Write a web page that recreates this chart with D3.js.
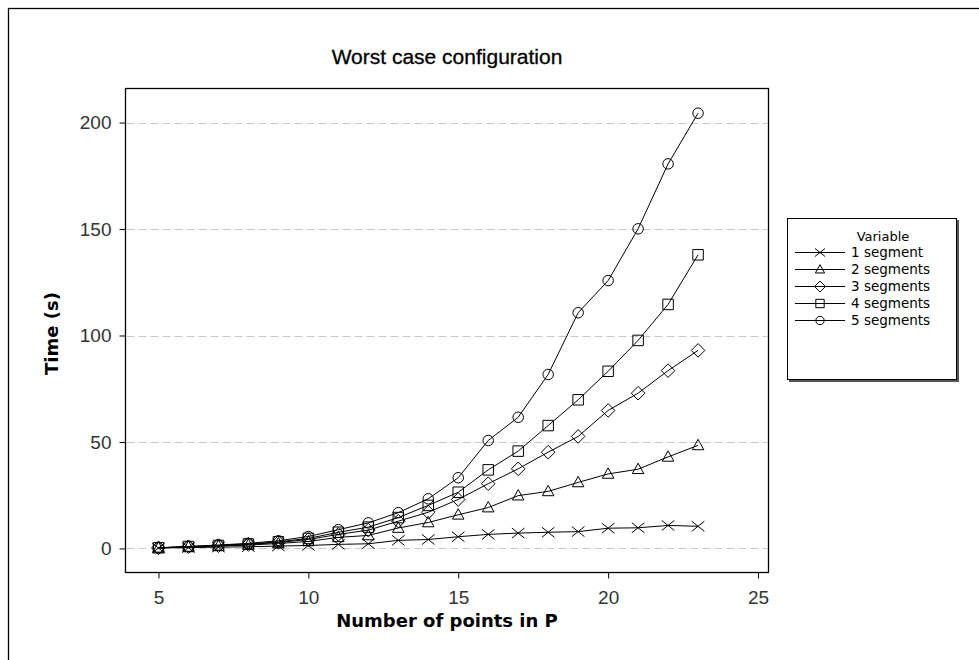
<!DOCTYPE html>
<html>
<head>
<meta charset="utf-8">
<script src="https://cdn.jsdelivr.net/npm/d3@7"></script>
<style>
  body { margin: 0; background: #fff; }
  svg { display: block; }
</style>
</head>
<body>
<svg width="979" height="660"></svg>
<script>
(function (d3) {
  "use strict";

  // data
  var points = [5, 6, 7, 8, 9, 10, 11, 12, 13, 14, 15, 16, 17, 18, 19, 20, 21, 22, 23];
  var seriesNames = ["1 segment", "2 segments", "3 segments", "4 segments", "5 segments"];
  var seg1 = [0.2, 0.4, 0.6, 0.8, 1.1, 1.4, 1.9, 2.2, 3.8, 4.2, 5.5, 6.6, 7.2, 7.6, 7.9, 9.5, 9.7, 10.8, 10.4];
  var seg2 = [0.3, 0.7, 1.1, 1.6, 2.3, 3.3, 5.2, 6.1, 9.6, 12.2, 15.8, 19.2, 24.8, 26.8, 31, 35, 37.2, 43, 48.4];
  var seg3 = [0.3, 0.8, 1.3, 1.9, 2.8, 4.2, 6.6, 8.6, 12.8, 17, 23, 30.4, 37.4, 45.2, 52.6, 64.8, 72.9, 83.5, 93];
  var seg4 = [0.3, 0.9, 1.4, 2.1, 3.1, 4.7, 7.6, 10, 14.5, 20.2, 26.4, 36.9, 45.7, 57.7, 69.8, 83.2, 97.7, 114.6, 137.9];
  var seg5 = [0.3, 0.9, 1.6, 2.4, 3.6, 5.6, 8.8, 12, 16.8, 23.3, 33.2, 50.7, 61.6, 81.7, 110.7, 125.8, 150.1, 180.6, 204.4];
  var xTicks = [5, 10, 15, 20, 25];
  var yTicks = [0, 50, 100, 150, 200];

  var allSeries = [seg1, seg2, seg3, seg4, seg5];

  var svg = d3.select("svg");

  var left = 125.5, right = 768.5, top = 88.5, bottom = 572.5;

  var x = d3.scaleLinear().domain([3.9, 25.35]).range([left, right]);
  var y = d3.scaleLinear().domain([-11.3, 216]).range([bottom, top]);

  // marker shapes, drawn hollow
  var cross = { draw: function (c, s) { var w = Math.sqrt(s) * 0.6, h = w * 0.8;
    c.moveTo(-w, -h); c.lineTo(w, h); c.moveTo(-w, h); c.lineTo(w, -h); } };
  var triangle = { draw: function (c, s) { var w = Math.sqrt(s) * 0.55;
    c.moveTo(0, -w * 1.05); c.lineTo(w, w * 0.75); c.lineTo(-w, w * 0.75); c.closePath(); } };
  var diamond = { draw: function (c, s) { var w = Math.sqrt(s) * 0.65;
    c.moveTo(0, -w); c.lineTo(w, 0); c.lineTo(0, w); c.lineTo(-w, 0); c.closePath(); } };
  var square = { draw: function (c, s) { var w = Math.sqrt(s) * 0.5;
    c.rect(-w, -w, 2 * w, 2 * w); } };
  var circle = { draw: function (c, s) { var r = Math.sqrt(s) * 0.5;
    c.moveTo(r, 0); c.arc(0, 0, r, 0, 2 * Math.PI); } };
  var shapes = [cross, triangle, diamond, square, circle];

  // outer frame
  svg.append("rect")
    .attr("x", 8.5).attr("y", 8.5)
    .attr("width", 1100).attr("height", 800)
    .attr("fill", "none").attr("stroke", "#000").attr("stroke-width", 1.3);

  // title
  svg.append("text")
    .attr("x", (left + right) / 2).attr("y", 64)
    .attr("text-anchor", "middle")
    .style("font-family", "Liberation Sans, Arial, sans-serif")
    .style("font-size", "21px")
    .style("stroke", "#000").style("stroke-width", 0.3)
    .text("Worst case configuration");

  // grid
  svg.append("g")
    .selectAll("line")
    .data(yTicks)
    .join("line")
    .attr("x1", left + 1).attr("x2", right - 1)
    .attr("y1", function (d) { return Math.round(y(d)) + 0.5; })
    .attr("y2", function (d) { return Math.round(y(d)) + 0.5; })
    .attr("stroke", "#c8c8c8")
    .attr("stroke-dasharray", "8,4");

  // axes
  var xAxis = svg.append("g")
    .attr("transform", "translate(0," + bottom + ")")
    .call(d3.axisBottom(x).tickValues(xTicks).tickSize(6).tickPadding(8));
  var yAxis = svg.append("g")
    .attr("transform", "translate(" + left + ",0)")
    .call(d3.axisLeft(y).tickValues(yTicks).tickSize(6).tickPadding(8));

  [xAxis, yAxis].forEach(function (a) {
    a.select(".domain").remove();
    a.selectAll("line").attr("stroke", "#000");
    a.selectAll("text")
      .attr("fill", "#333")
      .style("font-family", "Liberation Sans, Arial, sans-serif")
      .style("font-size", "19px");
  });
  xAxis.selectAll("text").attr("dy", "0.9em");

  // plot frame
  svg.append("rect")
    .attr("x", left).attr("y", top)
    .attr("width", right - left).attr("height", bottom - top)
    .attr("fill", "none").attr("stroke", "#000").attr("stroke-width", 1.3);

  // axis labels
  svg.append("text")
    .attr("x", (left + right) / 2).attr("y", 627)
    .attr("text-anchor", "middle")
    .style("font-family", "DejaVu Sans, sans-serif")
    .style("font-weight", "bold")
    .style("font-size", "18px")
    .text("Number of points in P");

  svg.append("text")
    .attr("transform", "translate(58," + ((top + bottom) / 2 + 3) + ") rotate(-90)")
    .attr("text-anchor", "middle")
    .style("font-family", "DejaVu Sans, sans-serif")
    .style("font-weight", "bold")
    .style("font-size", "18px")
    .text("Time (s)");

  // lines and markers
  var line = d3.line()
    .x(function (d, i) { return x(points[i]); })
    .y(function (d) { return y(d); });

  var plot = svg.append("g");

  plot.selectAll(".series")
    .data(allSeries)
    .join("path")
    .attr("class", "series")
    .attr("d", line)
    .attr("fill", "none")
    .attr("stroke", "#000")
    .attr("stroke-width", 1);

  allSeries.forEach(function (vals, k) {
    plot.append("g")
      .selectAll("path")
      .data(vals)
      .join("path")
      .attr("transform", function (d, i) { return "translate(" + x(points[i]) + "," + y(d) + ")"; })
      .attr("d", d3.symbol().type(shapes[k]).size(110))
      .attr("fill", "none")
      .attr("stroke", "#000")
      .attr("stroke-width", 1);
  });

  // legend
  var lg = svg.append("g");
  lg.append("rect")
    .attr("x", 789).attr("y", 220)
    .attr("width", 170).attr("height", 162)
    .attr("fill", "#555");
  lg.append("rect")
    .attr("x", 787.5).attr("y", 218.5)
    .attr("width", 169).attr("height", 161)
    .attr("fill", "#fff").attr("stroke", "#000");

  lg.append("text")
    .attr("x", 883).attr("y", 241)
    .attr("text-anchor", "middle")
    .style("font-family", "DejaVu Sans, sans-serif")
    .style("font-size", "13px")
    .text("Variable");

  var items = lg.selectAll(".item")
    .data(seriesNames)
    .join("g")
    .attr("class", "item")
    .attr("transform", function (d, i) { return "translate(0," + (252.5 + i * 17) + ")"; });

  items.append("line")
    .attr("x1", 795).attr("x2", 845)
    .attr("stroke", "#000");

  items.append("path")
    .attr("transform", "translate(820,0)")
    .attr("d", function (d, i) { return d3.symbol().type(shapes[i]).size(70)(); })
    .attr("fill", "none")
    .attr("stroke", "#000");

  items.append("text")
    .attr("x", 851).attr("y", 4.5)
    .style("font-family", "DejaVu Sans, sans-serif")
    .style("font-size", "13.5px")
    .text(function (d) { return d; });
})(d3);
</script>
</body>
</html>
